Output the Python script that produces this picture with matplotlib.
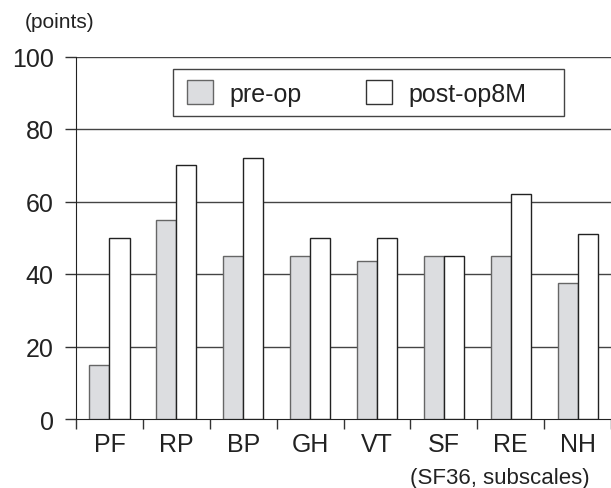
import matplotlib
matplotlib.use("Agg")
import matplotlib.pyplot as plt
import numpy as np
from matplotlib.patches import Patch, Rectangle

categories = ["PF", "RP", "BP", "GH", "VT", "SF", "RE", "NH"]
pre_op = [15, 55, 45, 45, 43.5, 45, 45, 37.5]
post_op = [50, 70, 72, 50, 50, 45, 62, 51]
yticks = [0, 20, 40, 60, 80, 100]

plt.rcParams['font.family'] = ['Liberation Sans', 'DejaVu Sans']
TXT = "#222222"

fig = plt.figure(figsize=(6.11, 4.89), dpi=100)
ax = fig.add_axes([76/611, 1-420/489, 1-76/611, (420-57.5)/489])

x = np.arange(len(categories))
w = 0.3
ax.bar(x - w/2, pre_op, w, color="#dcdde0", edgecolor="#666666", linewidth=1.0, zorder=3)
ax.bar(x + w/2, post_op, w, color="white", edgecolor="#222222", linewidth=1.0, zorder=3)

ax.set_xlim(-0.5, len(categories) - 0.5)
ax.set_ylim(0, 100)
for yv in yticks[1:]:
    ax.axhline(yv, color="#444444", linewidth=1.0, zorder=1)

ax.spines['top'].set_visible(False)
ax.spines['right'].set_visible(False)
ax.spines['left'].set_color("#222222")
ax.spines['bottom'].set_color("#222222")

ax.set_yticks(yticks)
ax.set_yticklabels([str(v) for v in yticks], fontsize=18, color=TXT)
ax.tick_params(axis='y', direction='out', length=8, width=1, color="#333333", pad=8)

ax.set_xticks(x)
ax.set_xticklabels(categories, fontsize=18, color=TXT)
ax.tick_params(axis='x', which='major', length=0, pad=9)
ax.set_xticks(np.arange(-0.5, len(categories), 1.0), minor=True)
ax.tick_params(axis='x', which='minor', direction='out', length=7, width=1, color="#333333")

# legend frame
ax.add_patch(Rectangle((97/535, (420-117)/362.5), (564-173)/535, 47/362.5,
                       transform=ax.transAxes, facecolor="white", edgecolor="#444444",
                       linewidth=1.0, zorder=5, clip_on=False))
handles = [Patch(facecolor="#dcdde0", edgecolor="#666666", label="pre-op"),
           Patch(facecolor="white", edgecolor="#333333", label="post-op8M")]
leg = ax.legend(handles=handles, loc='center left',
                bbox_to_anchor=((187-76)/535, (420-94)/362.5),
                ncol=2, fontsize=18, frameon=False, borderpad=0, borderaxespad=0,
                handlelength=1.04, handleheight=1.1, handletextpad=0.64, columnspacing=2.6,
                labelcolor=TXT)
leg.set_zorder(6)

fig.text(25/611, 1-28/489, "(points)", fontsize=15, ha='left', va='baseline', color=TXT)
fig.text(590/611, 1-484/489, "(SF36, subscales)", fontsize=16, ha='right', va='baseline', color=TXT)

fig.savefig("out.png", dpi=100)
